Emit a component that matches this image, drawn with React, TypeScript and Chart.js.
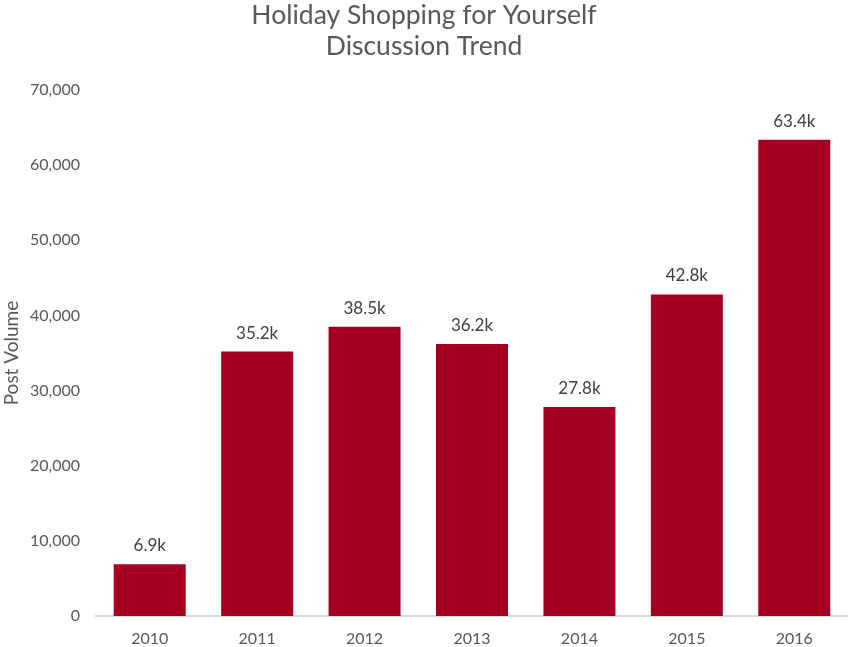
import React, { useEffect, useRef } from "react";
import { Chart, registerables } from "chart.js";

Chart.register(...registerables);

const years = ["2010", "2011", "2012", "2013", "2014", "2015", "2016"];
const postVolume = [6900, 35200, 38500, 36200, 27800, 42800, 63400];
const titleLines = ["Holiday Shopping for Yourself", "Discussion Trend"];
const yAxisTitle = "Post Volume";

const FONT = "Lato, 'Open Sans', sans-serif";
const BAR = "#A50021";
const TEXT = "#595959";

const labelPlugin = {
  id: "barLabels",
  afterDatasetsDraw(chart: any) {
    const ctx = chart.ctx;
    const meta = chart.getDatasetMeta(0);
    ctx.save();
    ctx.font = `17px ${FONT}`;
    ctx.fillStyle = "#404040";
    ctx.textAlign = "center";
    ctx.textBaseline = "bottom";
    meta.data.forEach((bar: any, i: number) => {
      const v = postVolume[i];
      ctx.fillText((v / 1000).toFixed(1) + "k", bar.x, bar.y - 10);
    });
    ctx.restore();
  },
};

export default function App() {
  const ref = useRef<HTMLCanvasElement>(null);
  useEffect(() => {
    document.body.style.margin = "0";
    const chart = new Chart(ref.current!, {
      type: "bar",
      data: {
        labels: years,
        datasets: [
          {
            data: postVolume,
            backgroundColor: BAR,
            categoryPercentage: 1,
            barPercentage: 0.67,
          },
        ],
      },
      options: {
        animation: false,
        responsive: false,
        maintainAspectRatio: false,
        layout: { padding: { left: 0, right: 0, top: 0, bottom: 0 } },
        plugins: {
          legend: { display: false },
          tooltip: { enabled: false },
          title: {
            display: true,
            text: titleLines,
            color: TEXT,
            font: { family: FONT, size: 26.5, weight: "normal", lineHeight: 1.18 },
            padding: { top: 0, bottom: 27.5 },
          },
        },
        scales: {
          x: {
            grid: { display: false, drawTicks: false },
            border: { display: true, color: "#D9D9D9", width: 2 },
            ticks: { color: TEXT, font: { family: FONT, size: 16 }, padding: 13 },
            afterFit: (s: any) => {
              s.height = 31;
            },
          },
          y: {
            min: 0,
            max: 70000,
            grid: { display: false, drawTicks: false },
            border: { display: false },
            ticks: {
              stepSize: 10000,
              color: TEXT,
              font: { family: FONT, size: 16 },
              padding: 16,
            },
            title: {
              display: true,
              text: yAxisTitle,
              color: TEXT,
              font: { family: FONT, size: 19 },
              padding: 0,
            },
            afterFit: (s: any) => {
              s.width = 96;
            },
          },
        },
      },
      plugins: [labelPlugin],
    });
    return () => chart.destroy();
  }, []);
  return (
    <div style={{ width: 848, height: 647 }}>
      <canvas ref={ref} width={848} height={647} style={{ display: "block" }} />
    </div>
  );
}
